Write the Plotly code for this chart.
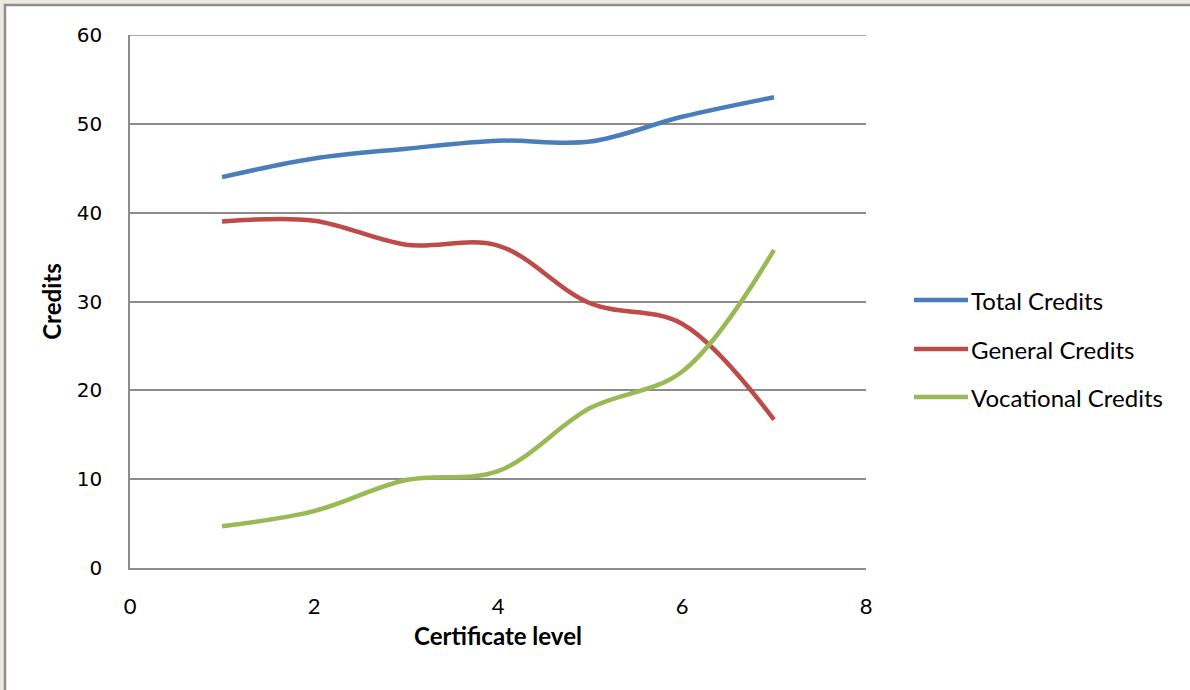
import plotly.graph_objects as go

# Certificate levels and credit totals per level
levels = [1, 2, 3, 4, 5, 6, 7]
total_credits = [44.0, 46.1, 47.2, 48.1, 48.0, 50.8, 53.0]
general_credits = [39.0, 39.1, 36.4, 36.3, 29.8, 27.5, 16.7]
vocational_credits = [4.7, 6.4, 9.9, 10.9, 18.0, 22.1, 35.8]

series_names = ["Total Credits", "General Credits", "Vocational Credits"]
series_values = [total_credits, general_credits, vocational_credits]
series_colors = ["#4A7EBB", "#BE4B48", "#98B954"]

x_ticks = [0, 2, 4, 6, 8]
y_ticks = [0, 10, 20, 30, 40, 50, 60]

W, H = 1190, 690
L, R, T, B = 130, 324, 35, 122
PW, PH = W - L - R, H - T - B


def px(x):
    return (x - L) / PW


def py(y):
    return (H - B - y) / PH


fig = go.Figure()
for name, vals, color in zip(series_names, series_values, series_colors):
    fig.add_trace(go.Scatter(
        x=levels, y=vals, name=name, mode="lines",
        line=dict(color=color, width=4.5, shape="spline", smoothing=1.0),
        showlegend=False,
    ))

grid = "#8C8C8C"
text_font = "Lato, Open Sans, sans-serif"

fig.update_xaxes(
    range=[0, 8], tickvals=x_ticks, showgrid=False, zeroline=False,
    showline=True, linecolor=grid, linewidth=1.5, ticks="",
    ticklabelstandoff=18,
    tickfont=dict(family=text_font, size=22, color="#000"),
    title=dict(text="<b>Certificate level</b>", font=dict(family=text_font, size=24, color="#000"), standoff=10),
    fixedrange=True,
)
fig.update_yaxes(
    range=[0, 60], tickvals=y_ticks, showgrid=True, gridcolor=grid, gridwidth=1.5,
    zeroline=False, showline=True, linecolor=grid, linewidth=1.5, ticks="",
    ticklabelstandoff=22,
    tickfont=dict(family="DejaVu Sans, Verdana, sans-serif", size=20, color="#000"),
    title=dict(text="<b>Credits</b>", font=dict(family=text_font, size=24, color="#000"), standoff=8),
    fixedrange=True,
)

shapes = [
    # outer frame: beige strip and grey border on the top and left edges
    dict(type="rect", xref="paper", yref="paper", x0=px(0), x1=px(W), y0=py(0), y1=py(4),
         fillcolor="#ECE9DF", line=dict(width=0), layer="below"),
    dict(type="rect", xref="paper", yref="paper", x0=px(0), x1=px(4), y0=py(0), y1=py(H),
         fillcolor="#ECE9DF", line=dict(width=0), layer="below"),
    dict(type="line", xref="paper", yref="paper", x0=px(4), x1=px(W), y0=py(5), y1=py(5),
         line=dict(color="#8E8E8E", width=2.5)),
    dict(type="line", xref="paper", yref="paper", x0=px(5), x1=px(5), y0=py(4), y1=py(H),
         line=dict(color="#8E8E8E", width=2.5)),
    # top gridline at the axis maximum
    dict(type="line", xref="paper", yref="y", x0=0, x1=1, y0=y_ticks[-1], y1=y_ticks[-1],
         line=dict(color=grid, width=1.5), layer="below"),
]

annotations = []
legend_y = [300, 349, 397]
for name, color, yy in zip(series_names, series_colors, legend_y):
    shapes.append(dict(type="line", xref="paper", yref="paper", x0=px(914), x1=px(968),
                       y0=py(yy), y1=py(yy), line=dict(color=color, width=4.5)))
    annotations.append(dict(xref="paper", yref="paper", x=px(969), y=py(yy), text=name,
                            showarrow=False, xanchor="left", yanchor="middle",
                            font=dict(family=text_font, size=24, color="#000")))

fig.update_layout(
    width=W, height=H,
    margin=dict(l=L, r=R, t=T, b=B, autoexpand=False),
    paper_bgcolor="#FFFFFF", plot_bgcolor="#FFFFFF",
    showlegend=False, shapes=shapes, annotations=annotations,
)

fig.write_html("out.html", config={"displayModeBar": False})
